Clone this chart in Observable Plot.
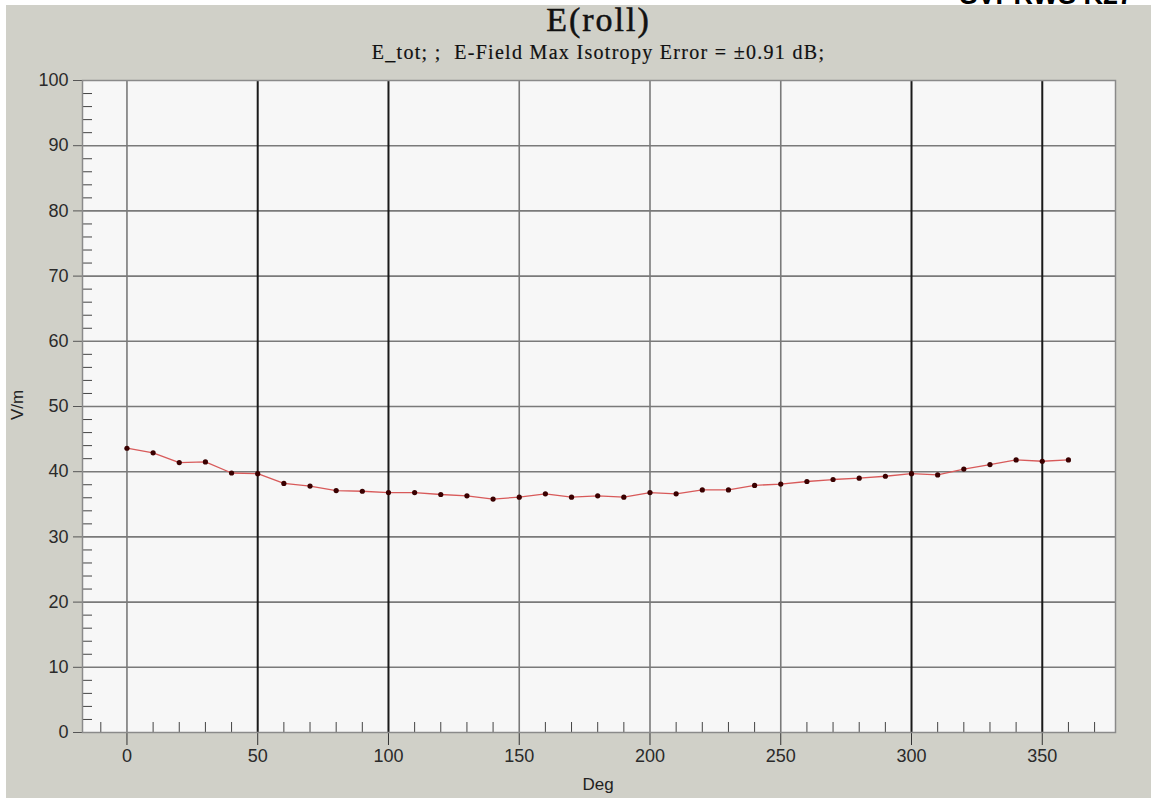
<!DOCTYPE html>
<html><head><meta charset="utf-8">
<script src="https://cdn.jsdelivr.net/npm/d3@7"></script>
<script src="https://cdn.jsdelivr.net/npm/@observablehq/plot@0.6"></script>
<style>
html,body{margin:0;padding:0;background:#fff;}
body{width:1151px;height:798px;overflow:hidden;position:relative;font-family:"Liberation Sans",Arial,sans-serif;}
#corner{position:absolute;right:18px;top:-20px;font:bold 27px "Liberation Sans",Arial,sans-serif;color:#000;z-index:0;white-space:nowrap;}
#panel{position:absolute;left:6px;top:5px;width:1145px;height:793px;background:#d0d0c8;z-index:1;}
#chart{position:absolute;left:0;top:0;z-index:2;}
.t{position:absolute;z-index:3;white-space:nowrap;color:#111;}
#title{left:0;width:1197px;text-align:center;top:1px;font:34px "Liberation Serif","Times New Roman",serif;letter-spacing:2px;-webkit-text-stroke:0.5px #111;}
#subtitle{left:0;width:1197px;text-align:center;top:41px;font:20px "Liberation Serif","Times New Roman",serif;letter-spacing:1.3px;-webkit-text-stroke:0.2px #111;}
#ylab{left:18px;top:405px;font:17px "Liberation Sans",Arial,sans-serif;color:#222;transform:translate(-50%,-50%) rotate(-90deg);}
#xlab{left:598px;top:785px;font:17px "Liberation Sans",Arial,sans-serif;color:#222;transform:translate(-50%,-50%);}
</style></head>
<body>
<div id="corner">SVPRWS K27</div>
<div id="panel"></div>
<div id="chart"></div>
<div class="t" id="title">E(roll)</div>
<div class="t" id="subtitle">E_tot; ;&nbsp; E-Field Max Isotropy Error = ±0.91 dB;</div>
<div class="t" id="ylab">V/m</div>
<div class="t" id="xlab">Deg</div>
<script>
const degs = [0,10,20,30,40,50,60,70,80,90,100,110,120,130,140,150,160,170,180,190,200,210,220,230,240,250,260,270,280,290,300,310,320,330,340,350,360];
const vm = [43.6,42.9,41.4,41.5,39.8,39.7,38.2,37.8,37.1,37.0,36.8,36.8,36.5,36.3,35.8,36.1,36.6,36.1,36.3,36.1,36.8,36.6,37.2,37.2,37.9,38.1,38.5,38.8,39.0,39.3,39.7,39.5,40.4,41.1,41.8,41.6,41.8];
const xTicks = [0,50,100,150,200,250,300,350];
const xMinor = [-10,10,20,30,40,60,70,80,90,110,120,130,140,160,170,180,190,210,220,230,240,260,270,280,290,310,320,330,340,360,370];
const gridDark = [50,100,300,350];
const gridLight = [0,150,200,250];
const yTicks = [0,10,20,30,40,50,60,70,80,90,100];
const yGrid = [10,20,30,40,50,60,70,80,90];
const yMinor = d3.range(0,100,2).filter(v => v % 10 !== 0);

const data = degs.map((d,i)=>({deg:d, v:vm[i]}));

const chart = Plot.plot({
  width: 1151, height: 798,
  marginLeft: 82, marginRight: 36, marginTop: 80, marginBottom: 66,
  style: {background: "transparent", color: "#333", fontFamily: "'Liberation Sans', Arial, sans-serif"},
  x: {domain: [-17, 378]},
  y: {domain: [0, 100]},
  marks: [
    Plot.frame({fill: "#f7f7f7", stroke: null}),
    Plot.gridY(yGrid, {stroke: "#7a7a7a", strokeOpacity: 1, strokeWidth: 1.6}),
    Plot.gridX(gridLight, {stroke: "#7a7a7a", strokeOpacity: 1, strokeWidth: 1.6}),
    Plot.gridX(gridDark, {stroke: "#1a1a1a", strokeOpacity: 1, strokeWidth: 2}),
    Plot.axisY(yTicks, {tickSize: 9, tickPadding: 5, fontSize: 18, stroke: "#555", fill: "#2a2a2a", label: null}),
    Plot.axisY(yMinor, {tickSize: -10, text: null, stroke: "#444", label: null}),
    Plot.axisX(xTicks, {tickSize: 13, tickPadding: 4, fontSize: 18, stroke: "#333", fill: "#2a2a2a", label: null}),
    Plot.axisX(xMinor, {tickSize: -10, text: null, stroke: "#444", label: null}),
    Plot.frame({stroke: "#8a8a8a", strokeWidth: 1.5}),
    Plot.line(data, {x: "deg", y: "v", stroke: "#d85a5a", strokeWidth: 1.3}),
    Plot.dot(data, {x: "deg", y: "v", r: 2.6, fill: "#3a0000", stroke: null})
  ]
});
document.getElementById("chart").appendChild(chart);
</script>
</body></html>
